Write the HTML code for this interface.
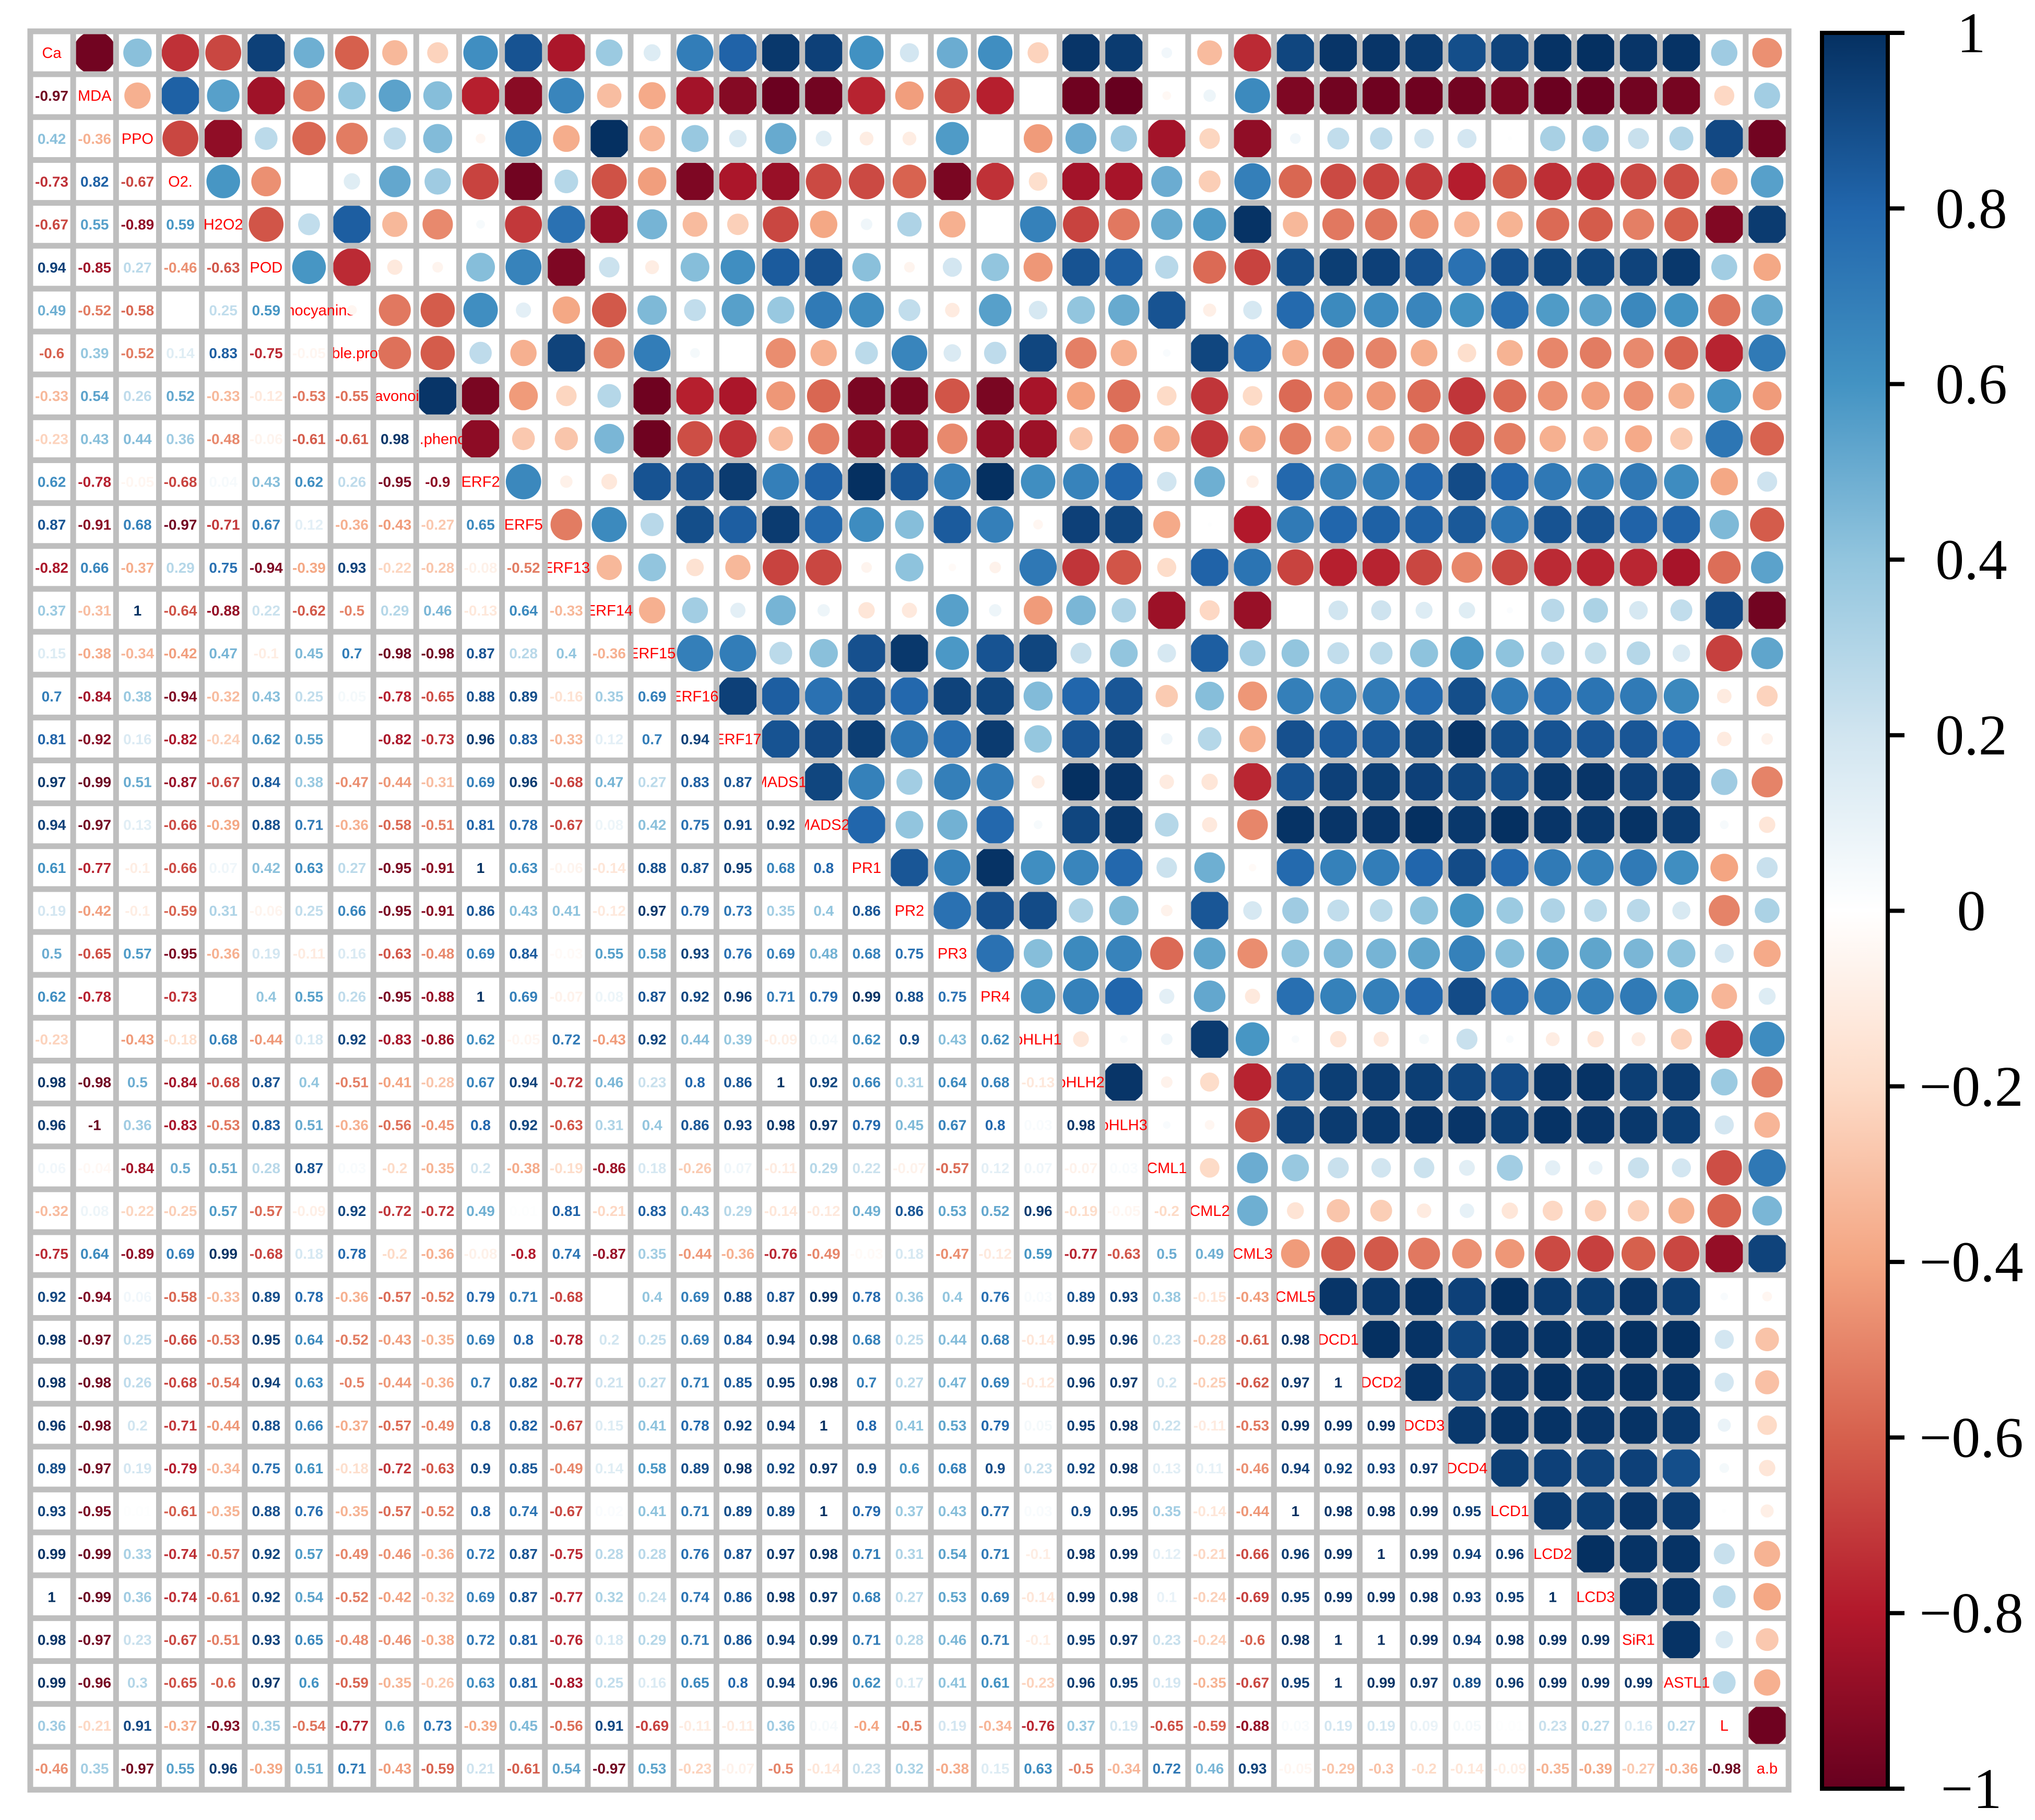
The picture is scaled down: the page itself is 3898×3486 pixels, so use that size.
<!DOCTYPE html>
<html><head><meta charset="utf-8"><style>
html,body{margin:0;padding:0;background:#fff;}
svg{display:block;}
.tl{font-family:"Liberation Serif","Times New Roman",serif;}
.dl{font-family:"Liberation Sans",Arial,sans-serif;}
.nv{font-family:"Liberation Sans Narrow","Liberation Sans",Arial,sans-serif;font-weight:bold;}
</style></head><body>
<svg id="chart" width="3898" height="3486" viewBox="0 0 3898 3486" xmlns="http://www.w3.org/2000/svg">
<defs>
<linearGradient id="cbgrad" x1="0" y1="0" x2="0" y2="1">
<stop offset="0" stop-color="#053061"/><stop offset="0.1" stop-color="#2166AC"/><stop offset="0.2" stop-color="#4393C3"/><stop offset="0.3" stop-color="#92C5DE"/><stop offset="0.4" stop-color="#D1E5F0"/><stop offset="0.5" stop-color="#FFFFFF"/><stop offset="0.6" stop-color="#FDDBC7"/><stop offset="0.7" stop-color="#F4A582"/><stop offset="0.8" stop-color="#D6604D"/><stop offset="0.9" stop-color="#B2182B"/><stop offset="1" stop-color="#67001F"/>
</linearGradient>
</defs>
<g id="cells"></g>
<g id="colorbar"></g>
</svg>
<script>
const labels = ["Ca","MDA","PPO","O2.","H2O2","POD","Anthocyanins","Soluble.protein","Flavonoid","Total.phenolics","ERF2","ERF5","ERF13","ERF14","ERF15","ERF16","ERF17","MADS1","MADS2","PR1","PR2","PR3","PR4","bHLH1","bHLH2","bHLH3","CML1","CML2","CML3","CML5","DCD1","DCD2","DCD3","DCD4","LCD1","LCD2","LCD3","SiR1","DASTL1","L","a.b"];
const lowerRows = [
[],
[-0.97],
[0.42,-0.36],
[-0.73,0.82,-0.67],
[-0.67,0.55,-0.89,0.59],
[0.94,-0.85,0.27,-0.46,-0.63],
[0.49,-0.52,-0.58,0.0,0.25,0.59],
[-0.6,0.39,-0.52,0.14,0.83,-0.75,-0.05],
[-0.33,0.54,0.26,0.52,-0.33,-0.12,-0.53,-0.55],
[-0.23,0.43,0.44,0.36,-0.48,-0.06,-0.61,-0.61,0.98],
[0.62,-0.78,-0.05,-0.68,0.04,0.43,0.62,0.26,-0.95,-0.9],
[0.87,-0.91,0.68,-0.97,-0.71,0.67,0.12,-0.36,-0.43,-0.27,0.65],
[-0.82,0.66,-0.37,0.29,0.75,-0.94,-0.39,0.93,-0.22,-0.28,-0.08,-0.52],
[0.37,-0.31,1,-0.64,-0.88,0.22,-0.62,-0.5,0.29,0.46,-0.13,0.64,-0.33],
[0.15,-0.38,-0.34,-0.42,0.47,-0.1,0.45,0.7,-0.98,-0.98,0.87,0.28,0.4,-0.36],
[0.7,-0.84,0.38,-0.94,-0.32,0.43,0.25,0.05,-0.78,-0.65,0.88,0.89,-0.16,0.35,0.69],
[0.81,-0.92,0.16,-0.82,-0.24,0.62,0.55,0.0,-0.82,-0.73,0.96,0.83,-0.33,0.12,0.7,0.94],
[0.97,-0.99,0.51,-0.87,-0.67,0.84,0.38,-0.47,-0.44,-0.31,0.69,0.96,-0.68,0.47,0.27,0.83,0.87],
[0.94,-0.97,0.13,-0.66,-0.39,0.88,0.71,-0.36,-0.58,-0.51,0.81,0.78,-0.67,0.08,0.42,0.75,0.91,0.92],
[0.61,-0.77,-0.1,-0.66,0.07,0.42,0.63,0.27,-0.95,-0.91,1,0.63,-0.06,-0.14,0.88,0.87,0.95,0.68,0.8],
[0.19,-0.42,-0.1,-0.59,0.31,-0.06,0.25,0.66,-0.95,-0.91,0.86,0.43,0.41,-0.12,0.97,0.79,0.73,0.35,0.4,0.86],
[0.5,-0.65,0.57,-0.95,-0.36,0.19,-0.11,0.16,-0.63,-0.48,0.69,0.84,-0.03,0.55,0.58,0.93,0.76,0.69,0.48,0.68,0.75],
[0.62,-0.78,0.0,-0.73,0.0,0.4,0.55,0.26,-0.95,-0.88,1,0.69,-0.07,0.08,0.87,0.92,0.96,0.71,0.79,0.99,0.88,0.75],
[-0.23,0.0,-0.43,-0.18,0.68,-0.44,0.18,0.92,-0.83,-0.86,0.62,-0.05,0.72,-0.43,0.92,0.44,0.39,-0.09,0.04,0.62,0.9,0.43,0.62],
[0.98,-0.98,0.5,-0.84,-0.68,0.87,0.4,-0.51,-0.41,-0.28,0.67,0.94,-0.72,0.46,0.23,0.8,0.86,1,0.92,0.66,0.31,0.64,0.68,-0.13],
[0.96,-1,0.36,-0.83,-0.53,0.83,0.51,-0.36,-0.56,-0.45,0.8,0.92,-0.63,0.31,0.4,0.86,0.93,0.98,0.97,0.79,0.45,0.67,0.8,0.03,0.98],
[0.06,-0.04,-0.84,0.5,0.51,0.28,0.87,0.03,-0.2,-0.35,0.2,-0.38,-0.19,-0.86,0.18,-0.26,0.07,-0.11,0.29,0.22,-0.07,-0.57,0.12,0.07,-0.07,0.03],
[-0.32,0.08,-0.22,-0.25,0.57,-0.57,-0.09,0.92,-0.72,-0.72,0.49,0.01,0.81,-0.21,0.83,0.43,0.29,-0.14,-0.12,0.49,0.86,0.53,0.52,0.96,-0.19,-0.05,-0.2],
[-0.75,0.64,-0.89,0.69,0.99,-0.68,0.18,0.78,-0.2,-0.36,-0.08,-0.8,0.74,-0.87,0.35,-0.44,-0.36,-0.76,-0.49,-0.03,0.18,-0.47,-0.12,0.59,-0.77,-0.63,0.5,0.49],
[0.92,-0.94,0.06,-0.58,-0.33,0.89,0.78,-0.36,-0.57,-0.52,0.79,0.71,-0.68,0.0,0.4,0.69,0.88,0.87,0.99,0.78,0.36,0.4,0.76,0.03,0.89,0.93,0.38,-0.15,-0.43],
[0.98,-0.97,0.25,-0.66,-0.53,0.95,0.64,-0.52,-0.43,-0.35,0.69,0.8,-0.78,0.2,0.25,0.69,0.84,0.94,0.98,0.68,0.25,0.44,0.68,-0.14,0.95,0.96,0.23,-0.28,-0.61,0.98],
[0.98,-0.98,0.26,-0.68,-0.54,0.94,0.63,-0.5,-0.44,-0.36,0.7,0.82,-0.77,0.21,0.27,0.71,0.85,0.95,0.98,0.7,0.27,0.47,0.69,-0.12,0.96,0.97,0.2,-0.25,-0.62,0.97,1],
[0.96,-0.98,0.2,-0.71,-0.44,0.88,0.66,-0.37,-0.57,-0.49,0.8,0.82,-0.67,0.15,0.41,0.78,0.92,0.94,1,0.8,0.41,0.53,0.79,0.05,0.95,0.98,0.22,-0.11,-0.53,0.99,0.99,0.99],
[0.89,-0.97,0.19,-0.79,-0.34,0.75,0.61,-0.18,-0.72,-0.63,0.9,0.85,-0.49,0.14,0.58,0.89,0.98,0.92,0.97,0.9,0.6,0.68,0.9,0.23,0.92,0.98,0.13,0.11,-0.46,0.94,0.92,0.93,0.97],
[0.93,-0.95,0.01,-0.61,-0.35,0.88,0.76,-0.35,-0.57,-0.52,0.8,0.74,-0.67,0.02,0.41,0.71,0.89,0.89,1,0.79,0.37,0.43,0.77,0.03,0.9,0.95,0.35,-0.14,-0.44,1,0.98,0.98,0.99,0.95],
[0.99,-0.99,0.33,-0.74,-0.57,0.92,0.57,-0.49,-0.46,-0.36,0.72,0.87,-0.75,0.28,0.28,0.76,0.87,0.97,0.98,0.71,0.31,0.54,0.71,-0.1,0.98,0.99,0.12,-0.21,-0.66,0.96,0.99,1,0.99,0.94,0.96],
[1,-0.99,0.36,-0.74,-0.61,0.92,0.54,-0.52,-0.42,-0.32,0.69,0.87,-0.77,0.32,0.24,0.74,0.86,0.98,0.97,0.68,0.27,0.53,0.69,-0.14,0.99,0.98,0.1,-0.24,-0.69,0.95,0.99,0.99,0.98,0.93,0.95,1],
[0.98,-0.97,0.23,-0.67,-0.51,0.93,0.65,-0.48,-0.46,-0.38,0.72,0.81,-0.76,0.18,0.29,0.71,0.86,0.94,0.99,0.71,0.28,0.46,0.71,-0.1,0.95,0.97,0.23,-0.24,-0.6,0.98,1,1,0.99,0.94,0.98,0.99,0.99],
[0.99,-0.96,0.3,-0.65,-0.6,0.97,0.6,-0.59,-0.35,-0.26,0.63,0.81,-0.83,0.25,0.16,0.65,0.8,0.94,0.96,0.62,0.17,0.41,0.61,-0.23,0.96,0.95,0.19,-0.35,-0.67,0.95,1,0.99,0.97,0.89,0.96,0.99,0.99,0.99],
[0.36,-0.21,0.91,-0.37,-0.93,0.35,-0.54,-0.77,0.6,0.73,-0.39,0.45,-0.56,0.91,-0.69,-0.11,-0.11,0.36,0.04,-0.4,-0.5,0.19,-0.34,-0.76,0.37,0.19,-0.65,-0.59,-0.88,0.03,0.19,0.19,0.09,0.05,0.01,0.23,0.27,0.16,0.27],
[-0.46,0.35,-0.97,0.55,0.96,-0.39,0.51,0.71,-0.43,-0.59,0.21,-0.61,0.54,-0.97,0.53,-0.23,-0.07,-0.5,-0.14,0.23,0.32,-0.38,0.15,0.63,-0.5,-0.34,0.72,0.46,0.93,-0.05,-0.29,-0.3,-0.2,-0.14,-0.09,-0.35,-0.39,-0.27,-0.36,-0.98]
];
const tickValues = [1,0.8,0.6,0.4,0.2,0,-0.2,-0.4,-0.6,-0.8,-1];

const NS = "http://www.w3.org/2000/svg";
const N = labels.length;
const X0 = 58, Y0 = 60, W = 3368;
const C = W / N;
const LW = 11;
const RMAX = 42;
const pal = ["#67001F","#B2182B","#D6604D","#F4A582","#FDDBC7","#FFFFFF","#D1E5F0","#92C5DE","#4393C3","#2166AC","#053061"];
function hex(h){return [parseInt(h.substr(1,2),16),parseInt(h.substr(3,2),16),parseInt(h.substr(5,2),16)];}
function colorOf(v){
  const t=(Math.max(-1,Math.min(1,v))+1)/2*10;
  const i=Math.min(9,Math.floor(t)), f=t-i;
  const a=hex(pal[i]), b=hex(pal[i+1]);
  return "rgb("+a.map((x,k)=>Math.round(x+(b[k]-x)*f)).join(",")+")";
}
function xOf(j){return X0 + j*C;}
function yOf(i){return Y0 + i*C;}
function val(i,j){ if(i===j) return 1; return i>j ? lowerRows[i][j] : lowerRows[j][i]; }
function mk(tag, attrs){const e=document.createElementNS(NS,tag); for(const k in attrs) e.setAttribute(k,attrs[k]); return e;}

const svg = document.getElementById("chart");
const defs = svg.querySelector("defs");
const g = document.getElementById("cells");

const bg = mk("rect",{x:X0-LW/2,y:Y0-LW/2,width:W+LW,height:W+LW,fill:"#BEBEBE"});


g.appendChild(bg);
for(let i=0;i<N;i++){
  for(let j=0;j<N;j++){
    const r = mk("rect",{x:xOf(j)+LW/2,y:yOf(i)+LW/2,width:C-LW,height:C-LW,fill:"#fff"});
    
    
    g.appendChild(r);
  }
}
for(let i=0;i<N;i++){
  const cp = mk("clipPath",{id:"dclip"+i});
  cp.appendChild(mk("rect",{x:xOf(i)+LW/2,y:yOf(i),width:4000,height:C}));
  defs.appendChild(cp);
  const t = mk("text",{x:xOf(i)+C/2,y:yOf(i)+C/2+10,"text-anchor":"middle","class":"dl","font-size":29,fill:"#FF0000","clip-path":"url(#dclip"+i+")"});
  t.textContent = labels[i];
  
  
  g.appendChild(t);
}
for(let i=0;i<N;i++){
  for(let j=0;j<N;j++){
    if(i===j) continue;
    const v = val(i,j);
    const cx = xOf(j)+C/2, cy = yOf(i)+C/2;
    if(j>i){
      const cp = mk("clipPath",{id:"c"+i+"_"+j});
      cp.appendChild(mk("rect",{x:xOf(j)+LW/2,y:yOf(i)+LW/2,width:C-LW,height:C-LW}));
      defs.appendChild(cp);
      const c = mk("circle",{cx:cx,cy:cy,r:RMAX*Math.sqrt(Math.abs(v)),fill:colorOf(v),"clip-path":"url(#c"+i+"_"+j+")"});
      
      
      g.appendChild(c);
    } else {
      const t = mk("text",{x:cx,y:cy+10,"text-anchor":"middle","class":"nv","font-size":28,fill:colorOf(v)});
      t.textContent = String(v);
      
      
      g.appendChild(t);
    }
  }
}
const cb = document.getElementById("colorbar");
const CBX=3490, CBW=126, CBT=63, CBB=3426;
function yVal(v){return CBT + (1-v)/2*(CBB-CBT);}
const bar = mk("rect",{x:CBX,y:CBT,width:CBW,height:CBB-CBT,fill:"url(#cbgrad)",stroke:"#000","stroke-width":8});


cb.appendChild(bar);
tickValues.forEach(v=>{
  const y=yVal(v);
  const tk = mk("line",{x1:CBX+CBW,x2:CBX+CBW+32,y1:y,y2:y,stroke:"#000","stroke-width":8});
  
  
  cb.appendChild(tk);
  const t = mk("text",{x:3776,y:y+37,"text-anchor":"middle","class":"tl","font-size":110,fill:"#000"});
  t.textContent = v<0 ? "\u2212"+String(-v) : String(v);
  
  
  cb.appendChild(t);
});
</script>
</body></html>
